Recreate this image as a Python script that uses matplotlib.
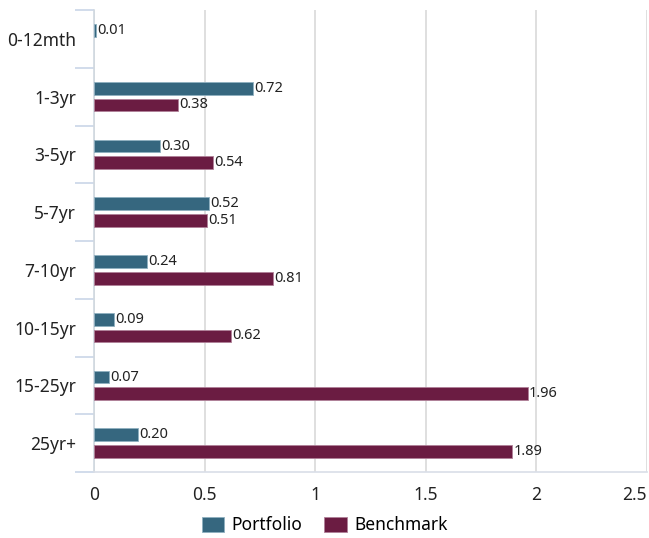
import matplotlib.pyplot as plt
import numpy as np

# data
categories = ['0-12mth', '1-3yr', '3-5yr', '5-7yr', '7-10yr', '10-15yr', '15-25yr', '25yr+']
portfolio = [0.01, 0.72, 0.30, 0.52, 0.24, 0.09, 0.07, 0.20]
benchmark = [None, 0.38, 0.54, 0.51, 0.81, 0.62, 1.96, 1.89]
x_ticks = [0, 0.5, 1, 1.5, 2, 2.5]
x_labels = ['0', '0.5', '1', '1.5', '2', '2.5']

plt.rcParams['font.family'] = ['Noto Sans', 'DejaVu Sans']

fig = plt.figure(figsize=(6.49, 5.38), dpi=100)
ax = fig.add_axes([94/649, 1 - 472/538, 553/649, 462/538])

y = np.arange(len(categories))
h = 0.22
off = 0.145
port_col = '#36677f'
bench_col = '#6b1c42'

# benchmark has no bar for the first bucket
by = [y[i] + off for i, v in enumerate(benchmark) if v is not None]
bv = [v for v in benchmark if v is not None]

bp = ax.barh(y - off, portfolio, height=h, color=port_col, edgecolor='#8fb0c0', linewidth=0.6, label='Portfolio', zorder=3)
bb = ax.barh(by, bv, height=h, color=bench_col, edgecolor='#b08098', linewidth=0.6, label='Benchmark', zorder=3)

for i, v in enumerate(portfolio):
    ax.text(v + 0.005, y[i] - off, f'{v:.2f}', va='center', ha='left', fontsize=10.5, color='#222222')
for yy, v in zip(by, bv):
    ax.text(v + 0.005, yy, f'{v:.2f}', va='center', ha='left', fontsize=10.5, color='#222222')

ax.set_xlim(0, 2.5)
ax.set_ylim(len(categories) - 0.5, -0.5)
ax.set_xticks(x_ticks)
ax.set_xticklabels(x_labels, fontsize=12.5, color='#222222')
ax.get_xticklabels()[-1].set_ha('right')
ax.set_yticks(y)
ax.set_yticklabels(categories, fontsize=12.5, color='#222222')
ax.set_yticks(np.arange(-0.5, len(categories) + 0.5, 1), minor=True)
ax.tick_params(axis='y', which='major', length=0, pad=13)
ax.tick_params(axis='y', which='minor', length=14, color='#c9d5e8', width=1.2)
ax.tick_params(axis='x', length=0, pad=10)

ax.grid(axis='x', color='#d9d9d9', linewidth=1.2, zorder=0)
for s in ['top', 'right']:
    ax.spines[s].set_visible(False)
ax.spines['left'].set_color('#d0d8e0')
ax.spines['left'].set_linewidth(1.2)
ax.spines['bottom'].set_color('#d9dee8')
ax.spines['bottom'].set_linewidth(1.2)

fig.legend(handles=[bp, bb], loc='lower center', bbox_to_anchor=(0.5, -0.022), ncol=2, frameon=False,
           fontsize=12.5, handlelength=1.3, handleheight=0.95, columnspacing=1.3, handletextpad=0.4)

fig.savefig('out.png', dpi=100)
